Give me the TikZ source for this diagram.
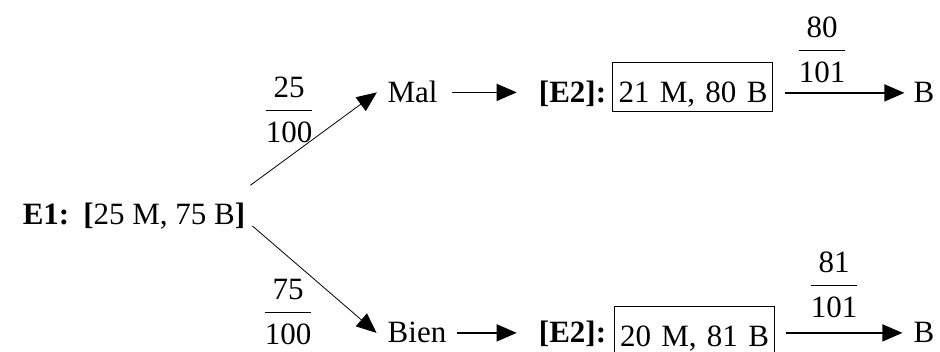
\documentclass[tikz,border=0pt]{standalone}
\usepackage{amsmath}
\usepackage{fontspec}
\setmainfont{Liberation Serif}
\usetikzlibrary{arrows.meta,calc}
\tikzstyle{word} = [inner sep=0, anchor=base, font=\fontsize{31}{37}\selectfont]
\tikzstyle{countbox} = [word, draw, line width=1pt, text width=150pt, align=right,
    inner xsep=5pt, text height=31pt, text depth=0pt, minimum height=49pt]
\tikzstyle{branch} = [-{Triangle[length=20pt,width=17pt]}, line width=0.8pt]
\tikzstyle{flowline} = [-{Triangle[length=20pt,width=17pt]}, line width=1.3pt]
\newcommand{\frc}[2]{\setlength{\arrayrulewidth}{1.2pt}%
    \begin{tabular}[b]{@{}c@{}}\rule[-12pt]{0pt}{0pt}#1\\\hline\rule{0pt}{32pt}#2\end{tabular}}

\begin{document}
\begin{tikzpicture}[x=1pt,y=-1pt]
\useasboundingbox (0,0) rectangle (940,352);
\node[word] (e1) at (134,225) {\textbf{E1:}\hspace{14pt}\textbf{[}25 M, 75 B\textbf{]}};
\node[word] (mal) at (412.5,103) {Mal};
\node[word] (bien) at (417,343) {Bien};
\node[word] (e2top) at (572.5,103) {\textbf{[E2]:}};
\node[word] (e2bot) at (572.5,343) {\textbf{[E2]:}};
\node[countbox] (urntop) at (692.5,103) {21 M, 80 B};
\node[countbox] (urnbot) at (694,347) {20 M, 81 B};
\node[word] (btop) at (924,103) {B};
\node[word] (bbot) at (924,343) {B};
\node[word] (pmal) at (289,143) {\frc{25}{100}};
\node[word] (pbien) at (288,345) {\frc{75}{100}};
\node[word] (ptop) at (822,83) {\frc{80}{101}};
\node[word] (pbot) at (834,318) {\frc{81}{101}};
\draw[branch] ([shift={(5,-18)}]e1.north east) -- ([xshift=-10.5pt]mal.west);
\draw[branch] ([shift={(7,-4)}]e1.south east) -- ([xshift=-11pt]bien.west);
\draw[flowline, shorten <=14.5pt, shorten >=22pt] (mal.east) -- (mal.east -| e2top.west);
\draw[flowline, shorten <=11pt, shorten >=22pt] (bien.east) -- (bien.east -| e2bot.west);
\draw[flowline, shorten <=12pt, shorten >=9pt] (urntop.east |- btop.west) -- (btop.west);
\draw[flowline, shorten <=11pt, shorten >=11pt] (urnbot.east |- bbot.west) -- (bbot.west);
\end{tikzpicture}
\end{document}
